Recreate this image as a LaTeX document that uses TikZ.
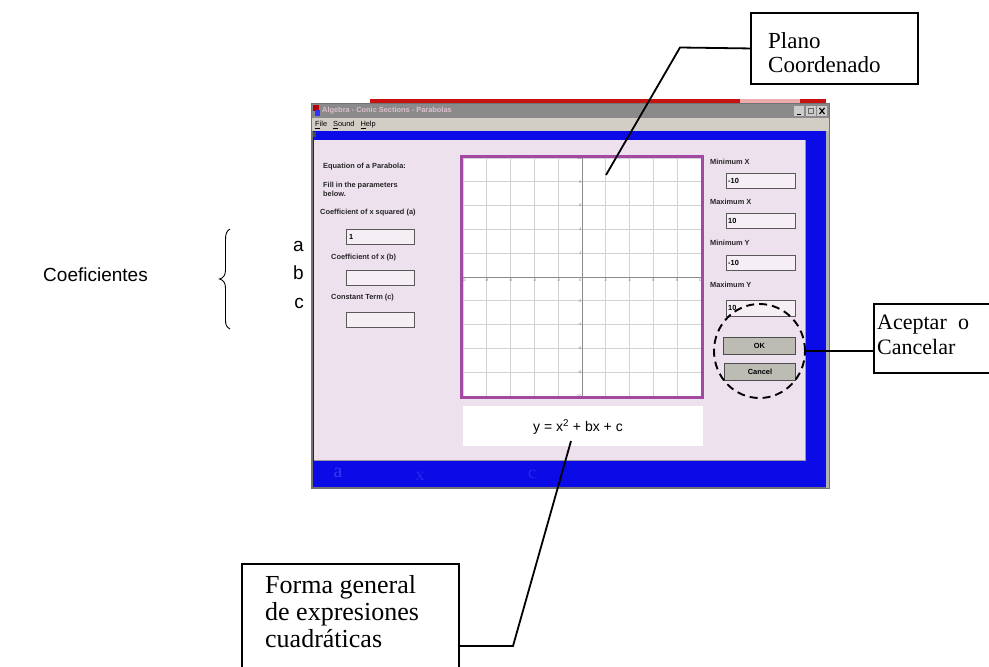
\documentclass[tikz,border=0pt]{standalone}
\usepackage{fontspec}
\setmainfont{Liberation Serif}
\setsansfont{Liberation Sans}
\usetikzlibrary{shapes.geometric}
\definecolor{winpink}{HTML}{EEE1EE}
\definecolor{winblue}{HTML}{0B0BE8}
\definecolor{titlegray}{HTML}{8A8A8A}
\definecolor{menugray}{HTML}{D2CEC6}
\definecolor{titletext}{HTML}{DCC0D0}
\definecolor{gridframe}{HTML}{A24AA2}
\definecolor{gridline}{HTML}{D2D2D2}
\definecolor{axisgray}{HTML}{8A8A8A}
\definecolor{boxfill}{HTML}{F5EEF5}
\definecolor{btnfill}{HTML}{BCBCB4}
\definecolor{wired}{HTML}{C81212}
\begin{document}
\begin{tikzpicture}[x=1pt,y=-1pt,
  callout/.style={draw=black, line width=1.9pt, fill=white, inner sep=0pt},
  callouttext/.style={align=left, inner sep=0pt},
  wlabel/.style={font=\sffamily\bfseries\fontsize{7.4}{8}\selectfont, text=black!85, inner sep=0pt},
  field/.style={draw=black!65, line width=0.9pt, fill=boxfill, inner sep=0pt},
  fieldtext/.style={font=\sffamily\bfseries\fontsize{7.4}{8}\selectfont, inner sep=0pt},
  button/.style={draw=black!70, line width=1pt, fill=btnfill, inner sep=0pt,
    font=\sffamily\bfseries\fontsize{7.4}{8}\selectfont},
  tick/.style={font=\sffamily\fontsize{3.8}{4}\selectfont, text=black!55, inner sep=0.4pt},
  leader/.style={draw=black, line width=1.8pt},
  latin/.style={font=\sffamily\fontsize{19}{22}\selectfont, inner sep=0pt}]

\useasboundingbox (0,0) rectangle (989,667);
\clip (0,0) rectangle (989,667);
\fill[white] (0,0) rectangle (989,667);

% ---------- application window ----------
% strip of the desktop above the window
\fill[wired] (370,99) rectangle (740,104);
\fill[wired!35] (740,99) rectangle (800,104);
\fill[wired] (800,99) rectangle (826,104);
% frame and blue backdrop
\fill[black!55] (311,103) rectangle (830,489);
\fill[winblue] (313,131) rectangle (826,487);
\fill[black!30] (826,118) rectangle (829,488);
% title bar
\fill[titlegray] (312,104) rectangle (829,118);
\fill[red!70!black] (313,105) rectangle (319,111);
\fill[blue!80] (315,110) rectangle (320,116);
\node[font=\sffamily\bfseries\fontsize{7.4}{8}\selectfont, text=titletext, anchor=west, inner sep=0pt]
  (wintitle) at (322,111) {Algebra - Conic Sections - Parabolas};
\foreach \bx in {794,806,817}{
  \fill[black!20] (\bx,106) rectangle (\bx+10,116);
}
\draw[black, line width=1pt] (796.5,114) -- (800.5,114);
\draw[black!60, line width=0.6pt] (808.5,108.5) rectangle (813.5,113.5);
\draw[black, line width=1.2pt] (819.5,108) -- (824.5,114) (819.5,114) -- (824.5,108);
% menu bar
\fill[menugray] (312,118) rectangle (829,131);
\node[font=\sffamily\fontsize{7.4}{8}\selectfont, anchor=west, inner sep=0pt]
  (winmenu) at (315,125) {\underline{F}ile\hspace{6pt}\underline{S}ound\hspace{6pt}\underline{H}elp};
\fill[black!70] (313,132) rectangle (316,137);

% pink form panel
\fill[winpink] (314,140) rectangle (805,460);
\draw[black!40, line width=0.6pt] (314,460) -- (805,460) -- (805,140);

% faint lettering in the blue backdrop
\node[font=\fontsize{20}{20}\selectfont, text=winblue!82!white, inner sep=0pt] (bga) at (338,473) {a};
\node[font=\fontsize{18}{18}\selectfont, text=winblue!88!white, inner sep=0pt] (bgx) at (420,476) {x};
\node[font=\fontsize{18}{18}\selectfont, text=winblue!88!white, inner sep=0pt] (bgc) at (532,474) {c};

% ---------- left column of the form ----------
\node[wlabel, anchor=west] (eqtitle) at (323,167) {Equation of a Parabola:};
\node[wlabel, anchor=north west, align=left, font=\sffamily\bfseries\fontsize{7.4}{8.5}\selectfont]
  (fillin) at (323,182) {Fill in the parameters\\below.};
\node[wlabel, anchor=west] (coefa) at (320,213) {Coefficient of x squared (a)};
\node[field, minimum width=68pt, minimum height=15pt, anchor=north west] (fielda) at (346,229) {};
\node[fieldtext, anchor=west] (vala) at (349,236.5) {1};
\node[wlabel, anchor=west] (coefb) at (331,258) {Coefficient of x (b)};
\node[field, minimum width=68pt, minimum height=15pt, anchor=north west] (fieldb) at (346,270) {};
\node[wlabel, anchor=west] (coefc) at (331,298) {Constant Term (c)};
\node[field, minimum width=68pt, minimum height=15pt, anchor=north west] (fieldc) at (346,312) {};

% ---------- coordinate plane ----------
\fill[white] (461,156) rectangle (703,398);
\foreach \i in {0,...,10}{
  \draw[gridline, line width=0.7pt] (463+\i*23.8,158) -- (463+\i*23.8,396);
  \draw[gridline, line width=0.7pt] (463,158+\i*23.8) -- (701,158+\i*23.8);
}
\draw[axisgray, line width=1pt] (463,277) -- (701,277);
\draw[axisgray, line width=1pt] (582,158) -- (582,396);
\foreach \i/\v in {0/-10,1/-8,2/-6,3/-4,4/-2,6/2,7/4,8/6,9/8,10/10}{
  \node[tick, anchor=north] (xt\i) at (463+\i*23.8,278) {\v};
}
\foreach \i/\v in {0/10,1/8,2/6,3/4,4/2,6/-2,7/-4,8/-6,9/-8,10/-10}{
  \node[tick, anchor=east] (yt\i) at (582,158+\i*23.8) {\v};
}
\node[tick, anchor=north east] (origin) at (582,278) {0};
\draw[gridframe, line width=3pt] (461.5,156.5) rectangle (702.5,397.5);

% equation strip
\fill[white] (463,406) rectangle (703,446);
\node[font=\sffamily\fontsize{14}{15}\selectfont, inner sep=0pt] (equation) at (578,427)
  {y = x\textsuperscript{2} + bx + c};

% ---------- right column of the form ----------
\node[wlabel, anchor=west] (minx) at (710,162) {Minimum X};
\node[field, minimum width=69pt, minimum height=15pt, anchor=north west] (fminx) at (726,173) {};
\node[fieldtext, anchor=west] (vminx) at (728,180.5) {-10};
\node[wlabel, anchor=west] (maxx) at (710,202) {Maximum X};
\node[field, minimum width=69pt, minimum height=15pt, anchor=north west] (fmaxx) at (726,213) {};
\node[fieldtext, anchor=west] (vmaxx) at (728,220.5) {10};
\node[wlabel, anchor=west] (miny) at (710,243) {Minimum Y};
\node[field, minimum width=69pt, minimum height=15pt, anchor=north west] (fminy) at (726,255) {};
\node[fieldtext, anchor=west] (vminy) at (728,262.5) {-10};
\node[wlabel, anchor=west] (maxy) at (710,285) {Maximum Y};
\node[field, minimum width=69pt, minimum height=16pt, anchor=north west] (fmaxy) at (726,300) {};
\node[fieldtext, anchor=west] (vmaxy) at (728,308) {10};
\node[button, minimum width=72pt, minimum height=17pt, anchor=north west] (okbtn) at (723,337) {OK};
\node[button, minimum width=71pt, minimum height=17pt, anchor=north west] (cancelbtn) at (724,363) {Cancel};

% dashed ring round the buttons
\node[ellipse, draw=black, line width=1.9pt, dash pattern=on 8pt off 5pt,
      minimum width=91pt, minimum height=94pt, inner sep=0pt] (okring) at (759.5,351) {};

% ---------- annotations ----------
\node[callout, minimum width=167pt, minimum height=71pt, anchor=north west] (plano) at (750,12) {};
\node[callouttext, font=\fontsize{23}{24}\selectfont, anchor=north west] (planotext) at (768,32.5)
  {Plano\\Coordenado};
\coordinate (planobend) at (680,47.5);
\coordinate (planotip) at (606,175);
\draw[leader] (plano.west) -- (planobend) -- (planotip);

\node[callout, minimum width=120pt, minimum height=69pt, anchor=north west] (aceptar) at (873,303) {};
\node[callouttext, font=\fontsize{22}{25}\selectfont, anchor=north west, text width=92pt]
  (aceptartext) at (877,315) {Aceptar\hfill o\\Cancelar};
\draw[leader] (okring.east) -- (okring.east -| aceptar.west);

\node[callout, minimum width=217pt, minimum height=120pt, anchor=north west] (forma) at (241,563) {};
\node[callouttext, font=\fontsize{26}{27}\selectfont, anchor=north west] (formatext) at (265,575)
  {Forma general\\de expresiones\\cuadráticas};
\coordinate (formabend) at (513,646);
\coordinate (eqtip) at (571,441);
\draw[leader] (forma.east |- formabend) -- (formabend) -- (eqtip);

% coefficients with their brace
\node[latin, anchor=base east] (coef) at (148,281) {Coeficientes};
\draw[line width=0.9pt] (230,229) .. controls (226.5,231) and (225.5,234) .. (225.5,240)
  -- (225.5,270) .. controls (225.5,275) and (223.5,278) .. (219.5,279)
  .. controls (223.5,280) and (225.5,283) .. (225.5,288)
  -- (225.5,320) .. controls (225.5,325) and (226.5,327) .. (230,329);
\node[latin, anchor=base east] (lbla) at (304,251) {a};
\node[latin, anchor=base east] (lblb) at (304,279) {b};
\node[latin, anchor=base east] (lblc) at (304,308) {c};
\end{tikzpicture}
\end{document}
